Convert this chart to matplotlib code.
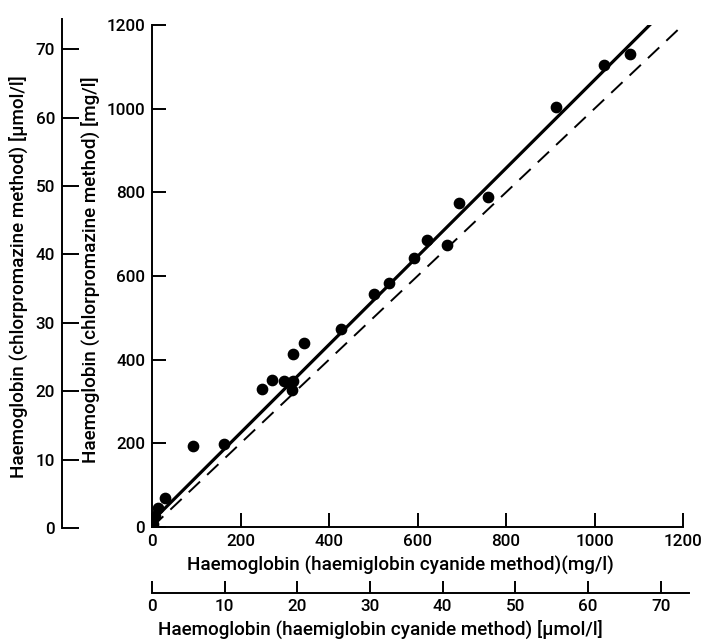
"""
Haemoglobin: chlorpromazine method vs haemiglobin cyanide method,
with secondary umol/l scales on both axes.
"""

import matplotlib
matplotlib.use("Agg")
import matplotlib.pyplot as plt

plt.rcParams["font.family"] = ["Roboto", "DejaVu Sans"]
plt.rcParams["font.weight"] = "medium"

# measured points, mg/l (cyanide method x, chlorpromazine method y)
cyanide_mg = [2, 7, 14, 29, 93, 163, 248, 272, 298, 318, 316, 319, 344,
              427, 502, 536, 592, 621, 667, 694, 759, 913, 1021, 1081]
chlorpro_mg = [7, 26, 46, 69, 194, 198, 330, 352, 350, 350, 327, 414, 440,
               474, 556, 584, 642, 687, 673, 775, 790, 1004, 1104, 1131]

# regression line and identity line endpoints (mg/l)
fit_x = [0, 1136]
fit_y = [14, 1212]
ident_x = [0, 1193]
ident_y = [0, 1193]

mg_ticks = [0, 200, 400, 600, 800, 1000, 1200]
umol_ticks = [0, 10, 20, 30, 40, 50, 60, 70]

W, H = 701, 640
FS = 12.3
LFS = 13.6


def box(x0, y0, x1, y1):
    # pixel box (top-left origin) -> figure fraction
    return [x0 / W, 1 - y1 / H, (x1 - x0) / W, (y1 - y0) / H]


fig = plt.figure(figsize=(W / 100, H / 100), dpi=100)

# main axes
ax = fig.add_axes(box(152, 25, 683, 527))
ax.scatter(cyanide_mg, chlorpro_mg, s=55, color="black", zorder=3)
ax.plot(fit_x, fit_y, color="black", lw=2.3, solid_capstyle="butt")
ax.plot(ident_x, ident_y, color="black", lw=1.4, dashes=(8, 5))
ax.set_xlim(0, 1200)
ax.set_ylim(0, 1200)
ax.set_xticks(mg_ticks)
ax.set_yticks(mg_ticks)
for side in ["top", "right"]:
    ax.spines[side].set_visible(False)
for side in ["left", "bottom"]:
    ax.spines[side].set_linewidth(1.4)
ax.tick_params(direction="in", length=10, width=1.4, labelsize=FS, pad=5)
ax.patch.set_alpha(0)

# secondary x axis (umol/l)
axb = fig.add_axes(box(152, 500, 689, 593))
axb.set_xlim(0, 73.9)
axb.set_xticks(umol_ticks)
axb.set_yticks([])
for side in ["top", "right", "left"]:
    axb.spines[side].set_visible(False)
axb.spines["bottom"].set_linewidth(1.4)
axb.tick_params(direction="in", length=9, width=1.4, labelsize=FS, pad=4)
axb.patch.set_alpha(0)

# secondary y axis (umol/l)
axl = fig.add_axes(box(62, 19, 150, 528))
axl.set_ylim(0, 74.4)
axl.set_yticks(umol_ticks)
axl.set_xticks([])
for side in ["top", "right", "bottom"]:
    axl.spines[side].set_visible(False)
axl.spines["left"].set_linewidth(1.4)
axl.tick_params(direction="in", length=12, width=1.4, labelsize=FS, pad=5)
axl.patch.set_alpha(0)

fig.text(400 / W, 1 - 565 / H, "Haemoglobin (haemiglobin cyanide method)(mg/l)",
         ha="center", va="center", fontsize=LFS)
fig.text(380 / W, 1 - 629 / H, "Haemoglobin (haemiglobin cyanide method) [μmol/l]",
         ha="center", va="center", fontsize=LFS)
fig.text(90 / W, 1 - 270 / H, "Haemoglobin (chlorpromazine method) [mg/l]",
         ha="center", va="center", rotation=90, fontsize=LFS)
fig.text(18 / W, 1 - 277 / H, "Haemoglobin (chlorpromazine method) [μmol/l]",
         ha="center", va="center", rotation=90, fontsize=LFS)

fig.savefig("out.png", dpi=100)
